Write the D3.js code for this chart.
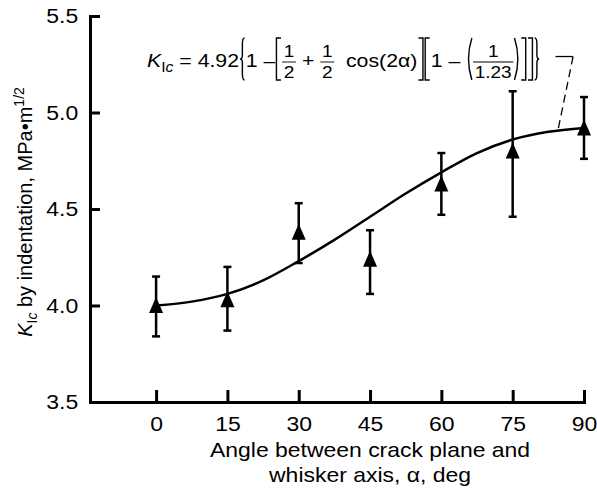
<!DOCTYPE html>
<html>
<head>
<meta charset="utf-8">
<script src="https://cdn.jsdelivr.net/npm/d3@7"></script>
<style>
  body { margin: 0; background: #fff; }
  text { font-family: "Liberation Sans", Arial, sans-serif; fill: #000; white-space: pre; }
</style>
</head>
<body>
<svg id="chart" width="597" height="495"></svg>
<script>
// measured points (angle, mean K and error bar ends)
const angles = [0, 15, 30, 45, 60, 75, 90];
const kMean = [4.00, 4.03, 4.38, 4.24, 4.63, 4.80, 4.92];
const kHigh = [4.15, 4.20, 4.53, 4.39, 4.79, 5.11, 5.08];
const kLow  = [3.84, 3.87, 4.22, 4.06, 4.47, 4.46, 4.76];

// fitted curve
const curveAngles = [0, 7.5, 15, 22.5, 30, 37.5, 45, 52.5, 60, 67.5, 75, 82.5, 90];
const curveK      = [4.00, 4.02, 4.06, 4.13, 4.23, 4.34, 4.46, 4.58, 4.69, 4.79, 4.86, 4.90, 4.92];

// leader from the equation to the curve
const leaderAngles = [84.0, 87.7, 84.5];
const leaderK      = [5.29, 5.29, 4.905];

const xTicks = [0, 15, 30, 45, 60, 75, 90];
const yTicks = [3.5, 4.0, 4.5, 5.0, 5.5];

const xTitle = ["Angle between crack plane and", "whisker axis, \u03b1, deg"];

let fontSize = 20.5;
let eqSize = 19;
let sx = 1.12;   // the figure is a bit wider than tall

let svg = d3.select("#chart");

let x = d3.scaleLinear().domain([-13.9, 90]).range([90, 584]);
let y = d3.scaleLinear().domain([3.5, 5.5]).range([402, 16]);

// AXES
let gx = svg.append("g")
  .attr("transform", "translate(0," + y(3.5) + ")")
  .call(d3.axisBottom(x).tickValues(xTicks).tickSizeInner(-12).tickSizeOuter(0).tickPadding(14));

let gy = svg.append("g")
  .attr("transform", "translate(" + x(-13.9) + ",0)")
  .call(d3.axisLeft(y).tickValues(yTicks).tickFormat(d3.format(".1f")).tickSizeInner(-10).tickSizeOuter(0).tickPadding(10.5));

[gx, gy].forEach(function(g) {
    g.select("path.domain").attr("stroke", "#000").attr("stroke-width", 3).attr("stroke-linecap", "square");
    g.selectAll(".tick line").attr("stroke", "#000").attr("stroke-width", 3);
    g.selectAll(".tick text")
      .attr("fill", "#000")
      .attr("transform", "scale(" + sx + ",1)")
      .style("font-size", fontSize + "px")
      .style("font-family", '"Liberation Sans", Arial, sans-serif');
});

// x title
svg.append("g")
  .attr("transform", "translate(" + (x(0) + x(90)) / 2 + ",0) scale(" + sx + ",1)")
  .append("text")
  .attr("text-anchor", "middle")
  .style("font-size", fontSize + "px")
  .selectAll("tspan")
  .data(xTitle)
  .enter().append("tspan")
    .attr("x", 0)
    .attr("y", function(d, i) { return 457 + i * 25; })
    .text(function(d) { return d; });

// y title
let yt = svg.append("text")
  .attr("transform", "translate(32,212) rotate(-90)")
  .attr("text-anchor", "middle")
  .style("font-size", "20px");
yt.append("tspan").style("font-style", "italic").text("K");
yt.append("tspan").attr("dy", 5).style("font-size", "14px").text("I");
yt.append("tspan").style("font-size", "14px").style("font-style", "italic").text("c");
yt.append("tspan").attr("dy", -5).text(" by indentation, MPa\u2022m");
yt.append("tspan").attr("dy", -8).style("font-size", "14px").text("1/2");

// CURVE
let line = d3.line()
  .x(function(d) { return x(d[0]); })
  .y(function(d) { return y(d[1]); })
  .curve(d3.curveCatmullRom);

svg.append("path")
  .datum(d3.zip(curveAngles, curveK))
  .attr("d", line)
  .attr("fill", "none")
  .attr("stroke", "#000")
  .attr("stroke-width", 2.5);

// ERROR BARS
let pts = angles.map(function(a, i) {
    return {a: a, k: kMean[i], hi: kHigh[i], lo: kLow[i]};
});
let capW = 4;

let bars = svg.append("g").selectAll("g.err")
  .data(pts)
  .enter().append("g")
    .attr("class", "err");
bars.append("line")
  .attr("x1", function(d) { return x(d.a); })
  .attr("x2", function(d) { return x(d.a); })
  .attr("y1", function(d) { return y(d.hi); })
  .attr("y2", function(d) { return y(d.lo); });
bars.append("line")
  .attr("x1", function(d) { return x(d.a) - capW; })
  .attr("x2", function(d) { return x(d.a) + capW; })
  .attr("y1", function(d) { return y(d.hi); })
  .attr("y2", function(d) { return y(d.hi); });
bars.append("line")
  .attr("x1", function(d) { return x(d.a) - capW; })
  .attr("x2", function(d) { return x(d.a) + capW; })
  .attr("y1", function(d) { return y(d.lo); })
  .attr("y2", function(d) { return y(d.lo); });
bars.selectAll("line").attr("stroke", "#000").attr("stroke-width", 2.5);

// TRIANGLES
svg.append("g").selectAll("path.tri")
  .data(pts)
  .enter().append("path")
    .attr("class", "tri")
    .attr("d", "M0,-8.5L7,7.5L-7,7.5Z")
    .attr("transform", function(d) { return "translate(" + x(d.a) + "," + y(d.k) + ")"; })
    .attr("fill", "#000");

// LEADER
let lp = d3.zip(leaderAngles, leaderK);
svg.append("line")
  .attr("x1", x(lp[0][0])).attr("y1", y(lp[0][1]))
  .attr("x2", x(lp[1][0])).attr("y2", y(lp[1][1]))
  .attr("stroke", "#000").attr("stroke-width", 1.3);
svg.append("line")
  .attr("x1", x(lp[1][0])).attr("y1", y(lp[1][1]))
  .attr("x2", x(lp[2][0])).attr("y2", y(lp[2][1]))
  .attr("stroke", "#000").attr("stroke-width", 1.3)
  .attr("stroke-dasharray", "8,5");

// EQUATION
let eq = svg.append("g").attr("transform", "translate(147,67) scale(" + sx + ",1)");
let cx = 0;
let dTop = -29, dBot = 13, dMid = (dTop + dBot) / 2;

function put(str, opts) {
    opts = opts || {};
    let t = eq.append("text")
      .attr("x", cx)
      .attr("y", opts.dy || 0)
      .style("font-size", (opts.size || eqSize) + "px")
      .text(str);
    if (opts.italic) t.style("font-style", "italic");
    cx += t.node().getComputedTextLength() + (opts.gap || 0);
    return t;
}

// tall delimiters drawn as paths
function tall(kind) {
    let w = 4, p = 1;
    let a = cx + p, b = cx + p + w;
    let d;
    if (kind == "[") d = "M" + b + "," + dTop + "H" + a + "V" + dBot + "H" + b;
    if (kind == "]") d = "M" + a + "," + dTop + "H" + b + "V" + dBot + "H" + a;
    if (kind == "(") d = "M" + b + "," + dTop + "Q" + (a - 2) + "," + dMid + " " + b + "," + dBot;
    if (kind == ")") d = "M" + a + "," + dTop + "Q" + (b + 2) + "," + dMid + " " + a + "," + dBot;
    if (kind == "{") d = "M" + b + "," + dTop + "Q" + (a + 2) + "," + dTop + " " + (a + 2) + "," + (dTop + 6) +
        "V" + (dMid - 4) + "Q" + (a + 2) + "," + dMid + " " + a + "," + dMid +
        "Q" + (a + 2) + "," + dMid + " " + (a + 2) + "," + (dMid + 4) +
        "V" + (dBot - 6) + "Q" + (a + 2) + "," + dBot + " " + b + "," + dBot;
    if (kind == "}") d = "M" + a + "," + dTop + "Q" + (b - 2) + "," + dTop + " " + (b - 2) + "," + (dTop + 6) +
        "V" + (dMid - 4) + "Q" + (b - 2) + "," + dMid + " " + b + "," + dMid +
        "Q" + (b - 2) + "," + dMid + " " + (b - 2) + "," + (dMid + 4) +
        "V" + (dBot - 6) + "Q" + (b - 2) + "," + dBot + " " + a + "," + dBot;
    eq.append("path")
      .attr("d", d)
      .attr("fill", "none")
      .attr("stroke", "#000")
      .attr("stroke-width", 1.4)
      .attr("vector-effect", "non-scaling-stroke");
    cx += w + 2 * p;
}

function frac(num, den) {
    let fs = 17;
    let tn = eq.append("text").attr("y", -10).attr("text-anchor", "middle").style("font-size", fs + "px").text(num);
    let td = eq.append("text").attr("y", 11).attr("text-anchor", "middle").style("font-size", fs + "px").text(den);
    let w = Math.max(tn.node().getComputedTextLength(), td.node().getComputedTextLength()) + 3;
    tn.attr("x", cx + w / 2);
    td.attr("x", cx + w / 2);
    eq.append("line")
      .attr("x1", cx).attr("x2", cx + w)
      .attr("y1", -5).attr("y2", -5)
      .attr("stroke", "#000").attr("stroke-width", 0.9);
    cx += w;
}

put("K", {italic: true});
put("I", {size: 14, dy: 5});
put("c", {size: 14, dy: 5, italic: true});
put(" = 4.92");
tall("{");
put("1 \u2013");
tall("[");
frac("1", "2");
put(" + ");
frac("1", "2");
put("  cos(2\u03b1)");
tall("]");
tall("[");
put("1 \u2013 ");
tall("(");
frac("1", "1.23");
tall(")");
tall("]");
tall("]");
tall("}");
</script>
</body>
</html>
